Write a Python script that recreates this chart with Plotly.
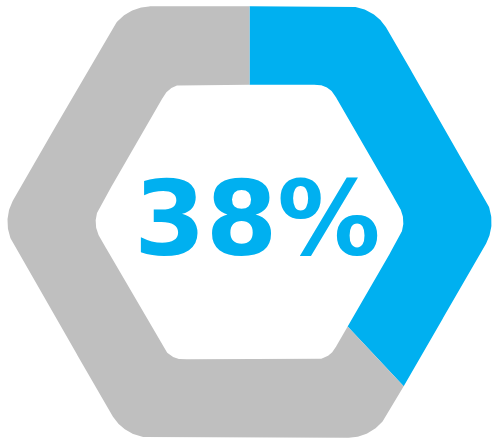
import numpy as np
import plotly.graph_objects as go

# Share shown in blue; remainder in gray
value_pct = 38
label_text = "38%"
segment_values = [value_pct, 100 - value_pct]
segment_colors = ["#00B0F0", "#BFBFBF"]

FIG_W, FIG_H = 492, 441
CX, CY = 249.5, 222.0
OUTER_R, OUTER_TOP_ROUND, OUTER_SIDE_ROUND = 249.0, 45.0, 45.0
INNER_R, INNER_TOP_ROUND, INNER_SIDE_ROUND = 158.5, 22.0, 30.0


def rounded_hexagon(R, r_top, r_side):
    """Flat-topped hexagon with rounded corners, as a dense closed outline."""
    angles = list(range(0, 360, 60))
    verts = [np.array([CX + R * np.cos(np.radians(a)), CY + R * np.sin(np.radians(a))]) for a in angles]
    radii = [r_side if a in (0, 180) else r_top for a in angles]
    pts = []
    n = len(verts)
    for i in range(n):
        V, P, N = verts[i], verts[i - 1], verts[(i + 1) % n]
        u1 = (P - V) / np.linalg.norm(P - V)
        u2 = (N - V) / np.linalg.norm(N - V)
        half = np.arccos(np.clip(np.dot(u1, u2), -1, 1)) / 2
        r = radii[i]
        d = r / np.tan(half)
        t1, t2 = V + u1 * d, V + u2 * d
        bis = (u1 + u2) / np.linalg.norm(u1 + u2)
        C = V + bis * r / np.sin(half)
        a1 = np.arctan2(*(t1 - C)[::-1])
        a2 = np.arctan2(*(t2 - C)[::-1])
        da = (a2 - a1 + np.pi) % (2 * np.pi) - np.pi
        for s in np.linspace(0, 1, 40):
            a = a1 + da * s
            pts.append(C + r * np.array([np.cos(a), np.sin(a)]))
    pts.append(pts[0])
    # densify the straight runs
    dense = []
    for p, q in zip(pts[:-1], pts[1:]):
        k = max(1, int(np.linalg.norm(q - p)))
        for s in np.linspace(0, 1, k, endpoint=False):
            dense.append(p + (q - p) * s)
    return np.array(dense)


def polar_profile(outline):
    dx = outline[:, 0] - CX
    dy = outline[:, 1] - CY
    th = np.degrees(np.arctan2(dx, -dy)) % 360
    rr = np.hypot(dx, dy)
    order = np.argsort(th)
    th, rr = th[order], rr[order]
    th = np.concatenate([th - 360, th, th + 360])
    rr = np.concatenate([rr, rr, rr])
    return lambda t: np.interp(t, th, rr)


r_outer = polar_profile(rounded_hexagon(OUTER_R, OUTER_TOP_ROUND, OUTER_SIDE_ROUND))
r_inner = polar_profile(rounded_hexagon(INNER_R, INNER_TOP_ROUND, INNER_SIDE_ROUND))


def ring_sector(t0, t1):
    ths = np.linspace(t0, t1, int(abs(t1 - t0) * 4) + 2)
    ro = r_outer(ths)
    ri = r_inner(ths[::-1])
    xs = np.concatenate([CX + ro * np.sin(np.radians(ths)), CX + ri * np.sin(np.radians(ths[::-1]))])
    ys = np.concatenate([CY - ro * np.cos(np.radians(ths)), CY - ri * np.cos(np.radians(ths[::-1]))])
    return np.append(xs, xs[0]), np.append(ys, ys[0])


fig = go.Figure()
total = sum(segment_values)
start = 0.0
for val, col in zip(segment_values, segment_colors):
    sweep = val / total * 360
    xs, ys = ring_sector(start, start + sweep)
    fig.add_trace(go.Scatter(x=xs, y=ys, mode="lines", fill="toself", fillcolor=col,
                             line=dict(width=0, color=col), hoverinfo="skip", showlegend=False))
    start += sweep

fig.add_annotation(x=257, y=219, text=label_text, showarrow=False, xanchor="center", yanchor="middle",
                   font=dict(family="DejaVu Sans", size=103, color=segment_colors[0], weight="bold"))

fig.update_xaxes(range=[0, FIG_W], visible=False, fixedrange=True)
fig.update_yaxes(range=[FIG_H, 0], visible=False, fixedrange=True)
fig.update_layout(width=FIG_W, height=FIG_H, autosize=False, margin=dict(l=0, r=0, t=0, b=0),
                  paper_bgcolor="white", plot_bgcolor="white")

fig.write_html("out.html")
